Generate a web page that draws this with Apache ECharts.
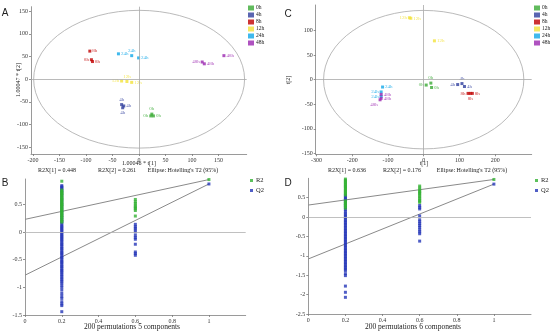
<!DOCTYPE html>
<html><head><meta charset="utf-8">
<script src="https://cdn.jsdelivr.net/npm/echarts@6/dist/echarts.min.js"></script>
<style>html,body{margin:0;padding:0;background:#fff}#c{width:550px;height:333px}</style>
</head><body><div id="c"></div>
<script>
// ---------- DATA ----------
const groups = ['0h', '4h', '8h', '12h', '24h', '48h'];

// Panel A score points [t1, t2]
const A_0h  = [[24, -77], [22, -81], [27, -81]];
const A_4h  = [[-33, -56], [-29, -59], [-31, -63]];
const A_8h  = [[-93, 62], [-90, 43], [-88, 39]];
const A_12h = [[-33, -4], [-23, -5], [-14, -7]];
const A_24h = [[-39, 56], [-14, 52], [-1, 47]];
const A_48h = [[160, 52], [119, 38], [123, 34]];
const A_labelPos = [['top','left','right'], ['top','right','bottom'], ['right','left','right'],
                    ['left','top','right'], ['right','top','right'], ['right','left','right']];
const A_ellipse = [199, 152];
const A_xTicks = [-200, -150, -100, -50, 0, 50, 100, 150];
const A_yTicks = [-150, -100, -50, 0, 50, 100, 150];

// Panel C score points
const C_0h  = [[20, -7], [7, -11], [22, -16]];
const C_4h  = [[95, -10], [107, -8], [114, -14]];
const C_8h  = [[124, -28], [130, -28], [136, -28]];
const C_12h = [[-40, 126], [-36, 125], [30, 79]];
const C_24h = [[-115, -15], [-119, -25], [-119, -34]];
const C_48h = [[-119, -30], [-119, -38], [-122, -41]];
const C_labelPos = [['top','left','right'], ['left','top','right'], ['left','bottom','right'],
                    ['left','right','right'], ['right','left','left'], ['right','right','bl']];
const C_ellipse = [280, 141];
const C_xTicks = [-300, -200, -100, 0, 100, 200];
const C_yTicks = [-150, -100, -50, 0, 50, 100];

// Permutation tests
const permX = [0.2, 0.6, 1];
const permTicksX = [0, 0.2, 0.4, 0.6, 0.8, 1];

const B_R2_at02 = [0.92, 0.76, 0.74, 0.72, 0.7, 0.69, 0.67, 0.65, 0.63, 0.61, 0.6, 0.58, 0.56, 0.54, 0.52, 0.5, 0.49, 0.47, 0.45, 0.43, 0.41, 0.39, 0.37, 0.35, 0.33, 0.31, 0.29, 0.27, 0.25, 0.22, 0.2, 0.18];
const B_Q2_at02 = [0.84, 0.82, 0.8, 0.78, 0.75, 0.71, 0.66, 0.6, 0.55, 0.5, 0.45, 0.4, 0.35, 0.3, 0.26, 0.22, 0.19, 0.16, 0.13, 0.1, 0.08, 0.05, 0.03, 0.0, -0.03, -0.05, -0.08, -0.1, -0.13, -0.15, -0.18, -0.21, -0.23, -0.26, -0.29, -0.31, -0.34, -0.37, -0.39, -0.42, -0.45, -0.47, -0.5, -0.53, -0.55, -0.58, -0.61, -0.63, -0.66, -0.69, -0.71, -0.74, -0.77, -0.8, -0.83, -0.86, -0.89, -0.92, -0.96, -1.0, -1.05, -1.11, -1.16, -1.2, -1.26, -1.3, -1.33, -1.44];
const B_R2_at06 = [0.59, 0.55, 0.52, 0.49, 0.46, 0.44, 0.42, 0.39, 0.29];
const B_Q2_at06 = [0.14, 0.1, 0.07, 0.04, 0.0, -0.06, -0.1, -0.13, -0.22, -0.36, -0.39, -0.42];
const B_R2_at1 = [0.95];
const B_Q2_at1 = [0.87];
const B_R2_line = [0.23, 0.95];   // value at x=0 and x=1
const B_Q2_line = [-0.78, 0.87];
const B_yTicks = [-1.5, -1, -0.5, 0, 0.5];

const D_R2_at02 = [0.98, 0.95, 0.92, 0.89, 0.86, 0.83, 0.8, 0.78, 0.75, 0.72, 0.69, 0.66, 0.63, 0.6, 0.57, 0.42, 0.39, 0.36, 0.33, 0.3, 0.27, 0.23];
const D_Q2_at02 = [0.56, 0.52, 0.48, 0.45, 0.4, 0.35, 0.3, 0.25, 0.2, 0.15, 0.1, 0.06, 0.02, -0.02, -0.06, -0.1, -0.14, -0.18, -0.22, -0.26, -0.3, -0.34, -0.38, -0.42, -0.46, -0.5, -0.54, -0.58, -0.62, -0.66, -0.7, -0.74, -0.78, -0.82, -0.86, -0.9, -0.94, -0.98, -1.02, -1.06, -1.1, -1.14, -1.18, -1.22, -1.26, -1.3, -1.34, -1.38, -1.46, -1.51, -1.78, -1.94, -2.07];
const D_R2_at06 = [0.8, 0.75, 0.7, 0.66, 0.63, 0.6, 0.56, 0.52, 0.48, 0.44, 0.41, 0.38];
const D_Q2_at06 = [0.3, 0.25, 0.21, 0.03, -0.07, -0.12, -0.17, -0.22, -0.27, -0.33, -0.38, -0.43, -0.62];
const D_R2_at1 = [0.97];
const D_Q2_at1 = [0.85];
const D_R2_line = [0.31, 0.97];
const D_Q2_line = [-1.08, 0.85];
const D_yTicks = [-2.5, -2, -1.5, -1, -0.5, 0, 0.5];

// ---------- STYLE ----------
const groupColors = ['#3aaa35', '#2f3f9e', '#c00000', '#f2e23a', '#10a8e8', '#9b27b0'];
const R2color = '#33b233', Q2color = '#2436b8';
const SERIF = "'Liberation Serif','Times New Roman',serif";
const SANS = "'Liberation Sans',Arial,sans-serif";

function mkAxis(gi, min, max, ticks) {
  return {
    type: 'value', gridIndex: gi, min: min, max: max,
    axisLine: { show: true, onZero: false, lineStyle: { color: '#9a9a9a', width: 1 } },
    axisTick: { show: true, length: 2, customValues: ticks, lineStyle: { color: '#777', width: 0.8 } },
    axisLabel: { customValues: ticks, fontSize: 6, color: '#333', fontFamily: SERIF, margin: 3 },
    splitLine: { show: false }
  };
}

function ellipseSeries(ai, radii) {
  return {
    type: 'custom', xAxisIndex: ai, yAxisIndex: ai, data: [[0, 0]], silent: true, z: 1, clip: false,
    renderItem: function (params, api) {
      const c = api.coord([api.value(0), api.value(1)]);
      const r = api.coord([api.value(0) + radii[0], api.value(1)]);
      const t = api.coord([api.value(0), api.value(1) + radii[1]]);
      const rx = r[0] - c[0], ry = c[1] - t[1];
      const d = 'M' + (c[0] - rx) + ',' + c[1] + ' A' + rx + ',' + ry + ' 0 1 0 ' + (c[0] + rx) + ',' + c[1] +
                ' A' + rx + ',' + ry + ' 0 1 0 ' + (c[0] - rx) + ',' + c[1] + ' Z';
      return { type: 'path', shape: { pathData: d }, style: { fill: 'none', stroke: '#a8a8a8', lineWidth: 0.8 } };
    }
  };
}

function scoreSeries(ai, sets, labelPos) {
  return sets.map(function (pts, gi) {
    const s = {
      type: 'scatter', name: groups[gi], xAxisIndex: ai, yAxisIndex: ai,
      symbol: 'rect', symbolSize: 3, z: 3,
      itemStyle: { color: groupColors[gi] },
      label: { show: true, formatter: groups[gi], fontSize: 5, fontFamily: SERIF, color: groupColors[gi], distance: 1 },
      data: pts.map(function (p, k) {
        const pos = labelPos[gi][k];
        const lab = pos === 'bl' ? { position: 'bottom', offset: [-6, 0] } : { position: pos };
        return { value: p, label: lab };
      })
    };
    if (gi === 0) {
      s.markLine = {
        silent: true, symbol: 'none', label: { show: false },
        lineStyle: { color: '#a8a8a8', width: 0.8, type: 'solid' },
        data: [{ xAxis: 0 }, { yAxis: 0 }]
      };
    }
    return s;
  });
}

function permSeries(ai, r2cols, q2cols, r2line, q2line) {
  const toPts = function (cols) {
    const out = [];
    cols.forEach(function (col, i) { col.forEach(function (v) { out.push([permX[i], v]); }); });
    return out;
  };
  return [
    { type: 'line', xAxisIndex: ai, yAxisIndex: ai, data: [[0, r2line[0]], [1, r2line[1]]], symbol: 'none',
      lineStyle: { color: '#8a8a8a', width: 1 }, z: 2, silent: true },
    { type: 'line', xAxisIndex: ai, yAxisIndex: ai, data: [[0, q2line[0]], [1, q2line[1]]], symbol: 'none',
      lineStyle: { color: '#8a8a8a', width: 1 }, z: 2, silent: true },
    { type: 'scatter', name: 'Q2', xAxisIndex: ai, yAxisIndex: ai, symbol: 'rect', symbolSize: 3, z: 3,
      itemStyle: { color: Q2color }, data: toPts(q2cols),
      markLine: { silent: true, symbol: 'none', label: { show: false },
        lineStyle: { color: '#b0b0b0', width: 0.8, type: 'solid' }, data: [{ yAxis: 0 }] } },
    { type: 'scatter', name: 'R2', xAxisIndex: ai, yAxisIndex: ai, symbol: 'rect', symbolSize: 3, z: 4,
      itemStyle: { color: R2color }, data: toPts(r2cols) }
  ];
}

function txt(x, y, text, size, family, extra) {
  return Object.assign({ type: 'text', x: x, y: y, silent: true,
    style: { text: text, fontSize: size, fontFamily: family, fill: '#222', align: 'center', verticalAlign: 'middle',
             textAlign: 'center', textVerticalAlign: 'middle' } }, extra || {});
}

const chart = echarts.init(document.getElementById('c'), null, { renderer: 'canvas' });
const groupLegendCommon = { orient: 'vertical', icon: 'rect', itemWidth: 6, itemHeight: 5, itemGap: 1, padding: 0,
  textStyle: { fontSize: 5.5, fontFamily: SERIF, color: '#222', padding: [0, 0, 0, -3] }, data: groups, selectedMode: false };
const permLegendCommon = { orient: 'vertical', icon: 'rect', itemWidth: 3, itemHeight: 3, itemGap: 3, padding: 0,
  textStyle: { fontSize: 6.5, fontFamily: SERIF, color: '#222', padding: [0, 0, 0, -2] }, data: ['R2', 'Q2'], selectedMode: false };

chart.setOption({
  animation: false,
  backgroundColor: '#fff',
  grid: [
    { left: 31, top: 6.7, width: 215.7, height: 147.3 },
    { left: 315.7, top: 5, width: 216, height: 149.3 },
    { left: 25, top: 179, width: 220.7, height: 136 },
    { left: 308.3, top: 178.3, width: 222.7, height: 135.7 }
  ],
  xAxis: [
    mkAxis(0, -204, 203, A_xTicks),
    mkAxis(1, -302, 302, C_xTicks),
    mkAxis(2, 0, 1.2, permTicksX),
    mkAxis(3, 0, 1.2, permTicksX)
  ],
  yAxis: [
    mkAxis(0, -165, 160, A_yTicks),
    mkAxis(1, -152, 152, C_yTicks),
    mkAxis(2, -1.5, 0.96, B_yTicks),
    mkAxis(3, -2.5, 1.0, D_yTicks)
  ],
  legend: [
    Object.assign({ left: 248, top: 5 }, groupLegendCommon),
    Object.assign({ left: 534, top: 5 }, groupLegendCommon),
    Object.assign({ left: 250, top: 177 }, permLegendCommon),
    Object.assign({ left: 535, top: 177 }, permLegendCommon)
  ],
  series: [].concat(
    [ellipseSeries(0, A_ellipse)],
    scoreSeries(0, [A_0h, A_4h, A_8h, A_12h, A_24h, A_48h], A_labelPos),
    [ellipseSeries(1, C_ellipse)],
    scoreSeries(1, [C_0h, C_4h, C_8h, C_12h, C_24h, C_48h], C_labelPos),
    permSeries(2, [B_R2_at02, B_R2_at06, B_R2_at1], [B_Q2_at02, B_Q2_at06, B_Q2_at1], B_R2_line, B_Q2_line),
    permSeries(3, [D_R2_at02, D_R2_at06, D_R2_at1], [D_Q2_at02, D_Q2_at06, D_Q2_at1], D_R2_line, D_Q2_line)
  ),
  graphic: [
    txt(5, 13, 'A', 10, SANS, null),
    txt(288, 14, 'C', 10, SANS, null),
    txt(5, 183, 'B', 10, SANS, null),
    txt(288, 183, 'D', 10, SANS, null),
    txt(139, 163, '1.00046 * t[1]', 6, SERIF, null),
    txt(18, 80, '1.00047 * t[2]', 6, SERIF, { rotation: Math.PI / 2 }),
    txt(57, 170, 'R2X[1] = 0.448', 6, SERIF, null),
    txt(117, 170, 'R2X[2] = 0.261', 6, SERIF, null),
    txt(183, 170, "Ellipse: Hotelling's T2 (95%)", 6, SERIF, null),
    txt(424, 163, 't[1]', 6, SERIF, null),
    txt(288, 80, 't[2]', 6, SERIF, { rotation: Math.PI / 2 }),
    txt(347, 170, 'R2X[1] = 0.636', 6, SERIF, null),
    txt(402, 170, 'R2X[2] = 0.176', 6, SERIF, null),
    txt(472, 170, "Ellipse: Hotelling's T2 (95%)", 6, SERIF, null),
    txt(132, 327, '200 permutations 5 components', 7.5, SERIF, null),
    txt(413, 327, '200 permutations 6 components', 7.5, SERIF, null)
  ]
});
</script></body></html>
